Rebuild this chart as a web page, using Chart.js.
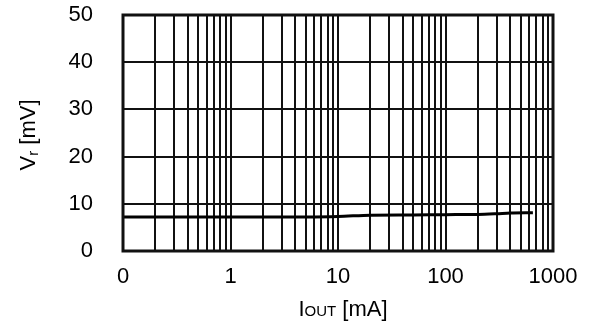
<!DOCTYPE html>
<html>
<head>
<meta charset="utf-8">
<script src="https://cdn.jsdelivr.net/npm/chart.js@4"></script>
<style>
  html, body { margin: 0; padding: 0; background: #fff; }
  #wrap { width: 589px; height: 325px; }
</style>
</head>
<body>
<div id="wrap"><canvas id="chart" width="589" height="325"></canvas></div>
<script>
// Output current (mA) vs ripple voltage Vr (mV)
const ioutMa = [0.1, 1, 5, 10, 20, 50, 100, 200, 300, 400, 650];
const vrMv   = [7.2, 7.2, 7.2, 7.3, 7.6, 7.65, 7.7, 7.75, 7.9, 8.05, 8.1];

// log grid: 1..9 per decade from 0.1 to 1000
const xGridValues = [];
[0.1, 1, 10, 100].forEach(d => { for (let k = 1; k < 10; k++) xGridValues.push(+(d * k).toPrecision(3)); });
xGridValues.push(1000);
const xTickLabels = { 0.1: '0', 1: '1', 10: '10', 100: '100', 1000: '1000' };
const yTicks = [0, 10, 20, 30, 40, 50];

const FONT = 'Liberation Sans, Arial, sans-serif';

// axis titles with small subscript parts
const axisTitles = {
    id: 'axisTitles',
    afterDraw(chart) {
        const c = chart.ctx;
        const a = chart.chartArea;
        c.save();
        c.fillStyle = '#000';
        c.textBaseline = 'alphabetic';

        // x title: I OUT [mA]
        const big = '22px ' + FONT, small = '15px ' + FONT;
        c.font = big; const w1 = c.measureText('I').width, w3 = c.measureText(' [mA]').width;
        c.font = small; const w2 = c.measureText('OUT').width;
        let x = (a.left + a.right) / 2 - (w1 + w2 + w3) / 2 + 5;
        const y = 316;
        c.font = big; c.fillText('I', x, y); x += w1;
        c.font = small; c.fillText('OUT', x, y); x += w2;
        c.font = big; c.fillText(' [mA]', x, y);

        // y title: V r [mV], rotated
        c.translate(35, (a.top + a.bottom) / 2 + 2);
        c.rotate(-Math.PI / 2);
        c.font = big; const v1 = c.measureText('V').width, v3 = c.measureText(' [mV]').width;
        c.font = small; const v2 = c.measureText('r').width;
        let t = -(v1 + v2 + v3) / 2;
        c.font = big; c.fillText('V', t, 0); t += v1;
        c.font = small; c.fillText('r', t, 3); t += v2;
        c.font = big; c.fillText(' [mV]', t, 0);
        c.restore();
    }
};

// thick outer frame
const frame = {
    id: 'frame',
    afterDatasetsDraw(chart) {
        const c = chart.ctx, a = chart.chartArea;
        c.save();
        c.strokeStyle = '#111';
        c.lineWidth = 3;
        c.strokeRect(a.left, a.top, a.right - a.left, a.bottom - a.top);
        c.restore();
    }
};

new Chart(document.getElementById('chart'), {
    type: 'line',
    data: {
        datasets: [{
            data: ioutMa.map((v, i) => ({ x: v, y: vrMv[i] })),
            borderColor: '#000',
            borderWidth: 3,
            pointRadius: 0,
            tension: 0.3,
            fill: false
        }]
    },
    options: {
        responsive: false,
        animation: false,
        layout: { padding: { top: 15, right: 36, left: 0, bottom: 0 } },
        plugins: { legend: { display: false }, tooltip: { enabled: false } },
        scales: {
            x: {
                type: 'logarithmic',
                min: 0.1,
                max: 1000,
                afterBuildTicks: s => { s.ticks = xGridValues.map(v => ({ value: v })); },
                afterFit: s => { s.height = 74; s.paddingLeft = 0; s.paddingRight = 0; },
                grid: { color: '#111', lineWidth: 2, drawTicks: false },
                border: { display: false },
                ticks: {
                    autoSkip: false,
                    maxRotation: 0,
                    padding: 13,
                    color: '#000',
                    font: { family: FONT, size: 22 },
                    callback: v => xTickLabels[v] ?? ''
                }
            },
            y: {
                min: 0,
                max: 50,
                afterBuildTicks: s => { s.ticks = yTicks.map(v => ({ value: v })); },
                afterFit: s => { s.width = 123; s.paddingTop = 0; s.paddingBottom = 0; },
                grid: { color: '#111', lineWidth: 2, drawTicks: false },
                border: { display: false },
                ticks: {
                    padding: 30,
                    color: '#000',
                    font: { family: FONT, size: 22 }
                }
            }
        }
    },
    plugins: [frame, axisTitles]
});
</script>
</body>
</html>
